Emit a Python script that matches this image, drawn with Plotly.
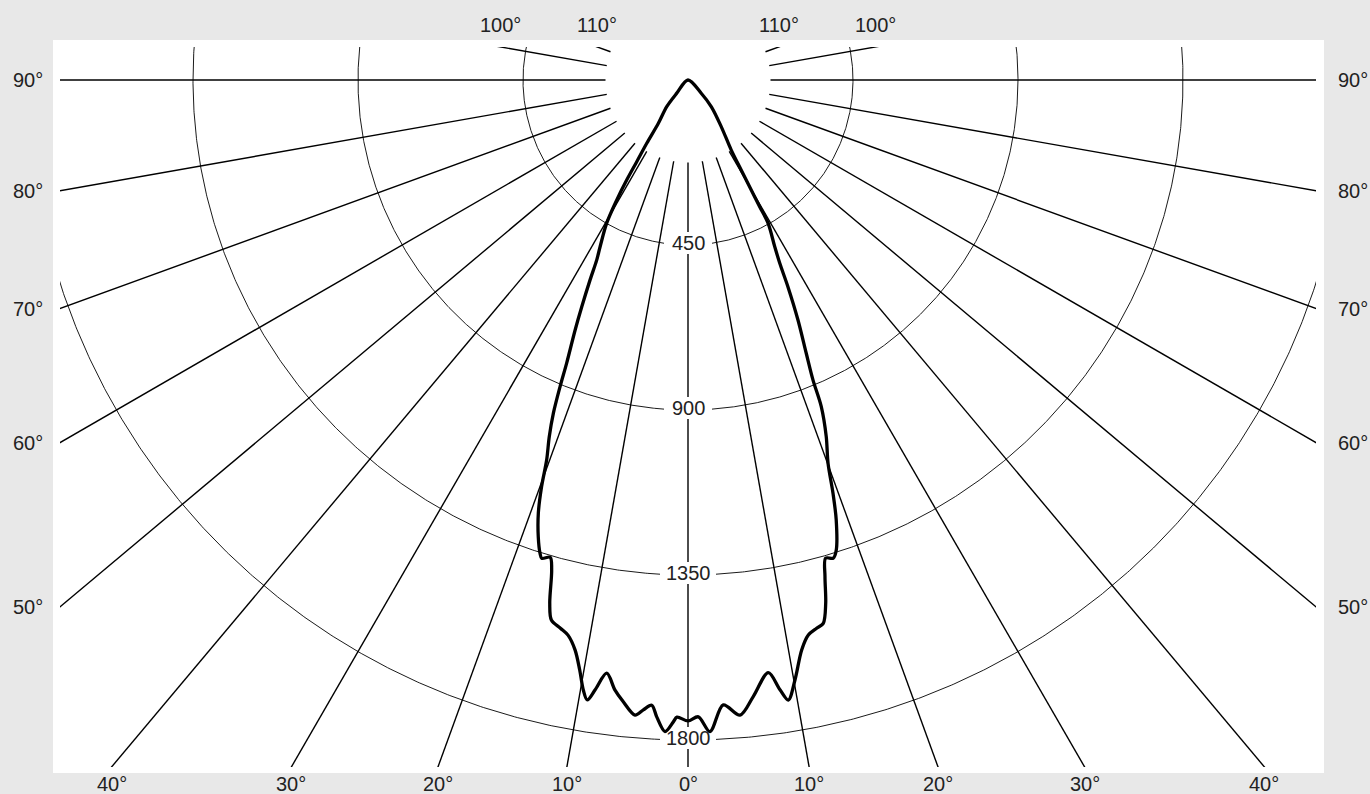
import numpy as np
import plotly.graph_objects as go

# ---------------- data ----------------
# luminous intensity (cd) vs angle from nadir (deg); left half plane and right half plane
gamma_left = [47, 40.4, 38.6, 34.4, 33.1, 32.1, 31.5, 30.7, 29.6, 27.8, 26.9, 26.1, 25.1,
              24.3, 23.2, 22.65, 22.0, 21.25, 20.4, 19.8, 19.06, 18.15, 17.37, 17.0, 16.1,
              15.55, 14.8, 14.2, 13.1, 12.2, 11.2, 10.4, 9.74, 9.23, 8.67, 7.8, 6.82, 5.94,
              4.77, 4.06, 3.32, 2.81, 2.02, 1.31, 0.99, 0.0]
cd_left = [0, 48, 93, 143, 206, 263, 320, 381, 449, 514, 550, 607, 683,
           748, 840, 906, 980, 1044, 1106, 1179, 1250, 1311, 1352, 1364, 1355,
           1387, 1476, 1519, 1535, 1549, 1585, 1636, 1688, 1713, 1683, 1633, 1676, 1705,
           1738, 1722, 1708, 1739, 1778, 1751, 1738, 1748]

gamma_right = [0.93, 1.93, 3.23, 4.68, 6.04, 7.72, 8.58, 9.19, 10.11, 11.28, 12.23, 13.2,
               13.98, 14.74, 15.42, 16.06, 16.9, 17.51, 18.62, 19.33, 20.07, 21.19, 22.2,
               22.62, 23.4, 24.62, 25.8, 26.6, 27.5, 29.2, 29.5, 29.9, 30.6, 31.7, 35.5,
               41.1, 45, 47]
cd_right = [1737, 1778, 1707, 1738, 1691, 1631, 1682, 1713, 1662, 1585, 1549, 1536,
            1527, 1476, 1405, 1357, 1363, 1344, 1266, 1195, 1113, 1043, 962,
            886, 812, 720, 626, 559, 512, 448, 397, 346, 285, 224, 156,
            97, 51, 0]

ring_values = [450, 900, 1350, 1800]
ring_labels = ["450", "900", "1350", "1800"]
spoke_angles = [0, 10, 20, 30, 40, 50, 60, 70, 80, 90, 100, 110]
spoke_labels = ["0°", "10°", "20°", "30°", "40°", "50°", "60°", "70°", "80°", "90°", "100°", "110°"]
spoke_start = 225

# ---------------- geometry ----------------
W, H = 1370, 794
ML, MR, MT, MB = 60, 54, 47, 27
PW, PH = W - ML - MR, H - MT - MB
K = 165 / 450.0            # px per cd
CXP, CYP = 628, 33         # origin inside plot area (px from left / top)
xr = [-CXP / K, (PW - CXP) / K]
yr = [-(PH - CYP) / K, CYP / K]

FONT = "Liberation Sans, Arial, sans-serif"
TXT = "#222222"


def pol(g, r):
    g = np.radians(np.asarray(g, dtype=float))
    r = np.asarray(r, dtype=float)
    return r * np.sin(g), -r * np.cos(g)


fig = go.Figure()

# spokes (0° spoke broken at ring labels)
sx, sy = [], []
for a in spoke_angles:
    for s in ([1] if a == 0 else [-1, 1]):
        if a == 0:
            pts = [spoke_start]
            for v in ring_values:
                c = v - 2 / K
                pts += [c - 11 / K, c + 11 / K]
            pts.append(4000)
            for i in range(0, len(pts), 2):
                x, y = pol([0, 0], [pts[i], pts[i + 1]])
                sx += list(x) + [None]
                sy += list(y) + [None]
        else:
            x, y = pol([s * a, s * a], [spoke_start, 4000])
            sx += list(x) + [None]
            sy += list(y) + [None]
fig.add_trace(go.Scatter(x=sx, y=sy, mode="lines", line=dict(color="black", width=1.4),
                         hoverinfo="skip", showlegend=False))

# rings (with gap at label)
rx, ry = [], []
for v, lab in zip(ring_values, ring_labels):
    hw = 24 if len(lab) == 3 else 28
    tg = np.degrees(np.arcsin(hw / (v * K)))
    th = np.linspace(tg, 360 - tg, 1500)
    x, y = pol(th, np.full_like(th, v))
    rx += list(x) + [None]
    ry += list(y) + [None]
fig.add_trace(go.Scatter(x=rx, y=ry, mode="lines", line=dict(color="black", width=0.9),
                         hoverinfo="skip", showlegend=False))

# intensity curve
g_all = [-g for g in gamma_left] + list(gamma_right)
c_all = list(cd_left) + list(cd_right)
cx, cy = pol(g_all, c_all)
fig.add_trace(go.Scatter(x=cx, y=cy, mode="lines",
                         line=dict(color="black", width=3.3, shape="spline", smoothing=0.9),
                         hoverinfo="skip", showlegend=False))

ann = []
# ring labels
for v, lab in zip(ring_values, ring_labels):
    ann.append(dict(x=0, y=-v, xref="x", yref="y", text=lab, showarrow=False,
                    font=dict(family=FONT, size=20, color=TXT),
                    xanchor="center", yanchor="middle", yshift=2))

# angle labels at the clip edge
for a, lab in zip(spoke_angles, spoke_labels):
    for s in ([1] if a == 0 else [-1, 1]):
        dx = s * np.sin(np.radians(a))
        dy = np.cos(np.radians(a))  # downward positive
        ts = []
        if dx < -1e-9:
            ts.append((-CXP / dx, "left"))
        if dx > 1e-9:
            ts.append(((PW - CXP) / dx, "right"))
        if dy > 1e-9:
            ts.append(((PH - CYP) / dy, "bottom"))
        if dy < -1e-9:
            ts.append((-CYP / dy, "top"))
        t, edge = min(ts, key=lambda z: z[0])
        px, py = CXP + t * dx, CYP + t * dy
        if edge == "left":
            px -= 16.5; xa, ya = "right", "middle"
        elif edge == "right":
            px += 20.5; xa, ya = "left", "middle"
        elif edge == "bottom":
            py += 16.5; xa, ya = "center", "middle"
        else:
            py -= 22.5; xa, ya = "center", "middle"
        ann.append(dict(x=px / PW, y=1 - py / PH, xref="paper", yref="paper", text=lab,
                        showarrow=False, xanchor=xa, yanchor=ya, borderpad=0,
                        font=dict(family=FONT, size=20, color=TXT)))

fig.update_layout(
    width=W, height=H,
    margin=dict(l=ML, r=MR, t=MT, b=MB, pad=0),
    paper_bgcolor="#e8e8e8",
    plot_bgcolor="white",
    showlegend=False,
    hovermode=False,
    xaxis=dict(range=xr, visible=False, showgrid=False, zeroline=False, fixedrange=True),
    yaxis=dict(range=yr, visible=False, showgrid=False, zeroline=False, fixedrange=True),
    annotations=ann,
    shapes=[dict(type="rect", xref="paper", yref="paper", layer="below",
                 x0=-7 / PW, x1=1 + 8 / PW, y0=-6 / PH, y1=1 + 7 / PH,
                 fillcolor="white", line=dict(width=0))],
)

fig.write_html("out.html", config={"displayModeBar": False, "staticPlot": True},
               post_script="document.body.style.margin='0px';document.body.style.overflow='hidden';")
